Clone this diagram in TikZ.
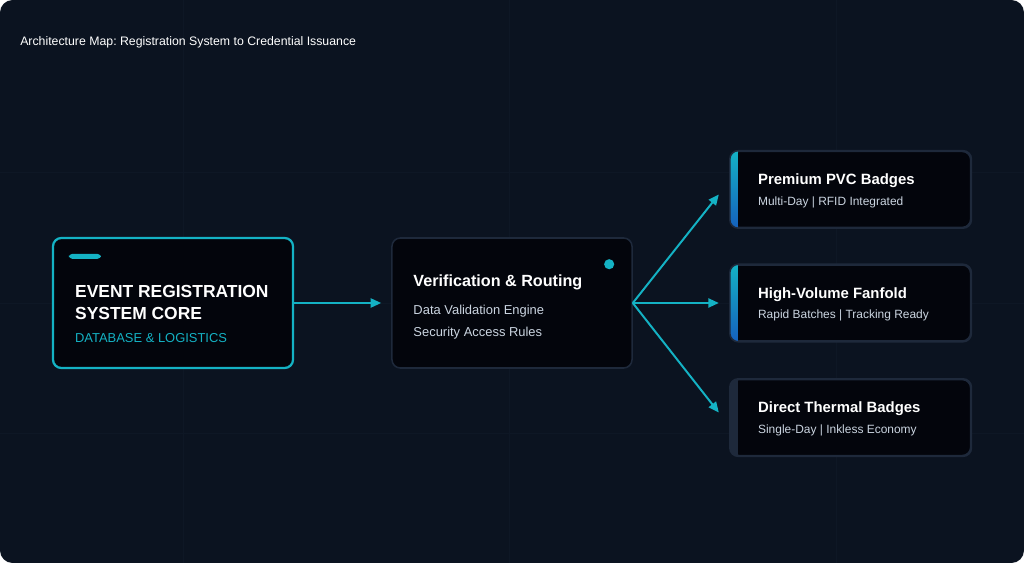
\documentclass[tikz,border=0pt]{standalone}
\usepackage{fontspec}
\setmainfont{Liberation Sans}
\usetikzlibrary{arrows.meta,calc,positioning}
\frenchspacing
\definecolor{bgnavy}{RGB}{11,19,32}
\definecolor{gridline}{RGB}{14,23,37}
\definecolor{cardfill}{RGB}{3,5,12}
\definecolor{cardedge}{RGB}{30,41,59}
\definecolor{tealc}{RGB}{20,178,196}
\definecolor{accentblue}{RGB}{21,96,189}
\definecolor{softgray}{RGB}{203,213,225}
\tikzset{
    card/.style = {draw=cardedge, line width=1.1pt, fill=cardfill,
        rounded corners=6pt, minimum width=6cm, minimum height=3.25cm},
    corecard/.style = {card, draw=tealc, line width=1.6pt},
    badge/.style = {card, minimum height=1.9cm},
    txt/.style = {anchor=west, inner sep=0pt, text=white},
    headtxt/.style = {txt, font=\fontsize{8.75}{10}\selectfont},
    bigtxt/.style = {txt, font=\fontsize{12.4}{15.6}\selectfont\bfseries, align=left},
    titletxt/.style = {txt, font=\fontsize{11.5}{13}\selectfont\bfseries},
    subtxt/.style = {txt, text=softgray, font=\fontsize{9.2}{11}\selectfont},
    badgetitle/.style = {txt, font=\fontsize{10.6}{12}\selectfont\bfseries},
    badgesub/.style = {txt, text=softgray, font=\fontsize{8.5}{10}\selectfont},
    link/.style = {->, draw=tealc, line width=1.4pt},
}

\begin{document}
\begin{tikzpicture}[x=0.025cm, y=-0.025cm, node distance=2.425cm,
    >={Triangle[length=7.5pt,width=6.5pt]}]
	% page
	\useasboundingbox (0,0) rectangle (1024,563);
	\fill[white] (0,0) rectangle (1024,563);
	\fill[bgnavy, rounded corners=9pt] (0,0) rectangle (1024,563);
	\foreach \gx in {183,509,836}
		\draw[gridline, line width=0.6pt] (\gx,0) -- (\gx,563);
	\foreach \gy in {172,303,433}
		\draw[gridline, line width=0.6pt] (0,\gy) -- (1024,\gy);
	
	% header
	\node [headtxt, name=header] at (20,42) {Architecture Map: Registration System to Credential Issuance};
	
	% core system
	\node [corecard, name=core] at (173,303) {};
	\fill [tealc, rounded corners=2.5pt] ($(core.north west)+(17,17)$) rectangle ($(core.north west)+(49,22)$);
	\node [bigtxt, name=coreTitle] at ($(core.north west)+(23,66)$) {EVENT REGISTRATION\\SYSTEM CORE};
	\node [subtxt, text=tealc, name=coreSub] at ($(core.north west)+(23,101)$) {DATABASE \& LOGISTICS};
	
	% verification
	\node [card, right=of core, name=route] {};
	\fill [tealc] ($(route.north west)+(218,27)$) circle (3.6pt);
	\node [titletxt, name=routeTitle] at ($(route.north west)+(22,45)$) {Verification \& Routing};
	\node [subtxt, name=routeA] at ($(route.north west)+(22,74)$) {Data Validation Engine};
	\node [subtxt, name=routeB] at ($(route.north west)+(22,96)$) {Security Access Rules};
	
	% badges
	\node [badge, right=of route, name=badgeB] {};
	\node [badge, above=0.9cm of badgeB, name=badgeA] {};
	\node [badge, below=0.925cm of badgeB, name=badgeC] {};
	\foreach \b/\ctop/\cbot in {badgeA/tealc/accentblue, badgeB/tealc/accentblue, badgeC/cardedge/cardedge} {
		\begin{scope}
			\clip [rounded corners=6pt] (\b.north west) rectangle (\b.south east);
			\fill [top color=\ctop, bottom color=\cbot] (\b.north west) rectangle ($(\b.south west)+(8,0)$);
		\end{scope}
		\draw [cardedge, line width=1.1pt, rounded corners=6pt] (\b.north west) rectangle (\b.south east);
	}
	\node [badgetitle, name=badgeAT] at ($(badgeA.north west)+(28,30)$) {Premium PVC Badges};
	\node [badgesub, name=badgeAS] at ($(badgeA.north west)+(28,52)$) {Multi-Day | RFID Integrated};
	\node [badgetitle, name=badgeBT] at ($(badgeB.north west)+(28,30)$) {High-Volume Fanfold};
	\node [badgesub, name=badgeBS] at ($(badgeB.north west)+(28,51)$) {Rapid Batches | Tracking Ready};
	\node [badgetitle, name=badgeCT] at ($(badgeC.north west)+(28,30)$) {Direct Thermal Badges};
	\node [badgesub, name=badgeCS] at ($(badgeC.north west)+(28,52)$) {Single-Day | Inkless Economy};
	
	%%lines
	\draw [link] (core.east) -- ($(route.west)+(-10,0)$);
	\draw [link] (route.east) -- ($(badgeA.west)+(-11,5)$);
	\draw [link] (route.east) -- ($(badgeB.west)+(-11,0)$);
	\draw [link] (route.east) -- ($(badgeC.west)+(-11,-5)$);
\end{tikzpicture}
\end{document}
